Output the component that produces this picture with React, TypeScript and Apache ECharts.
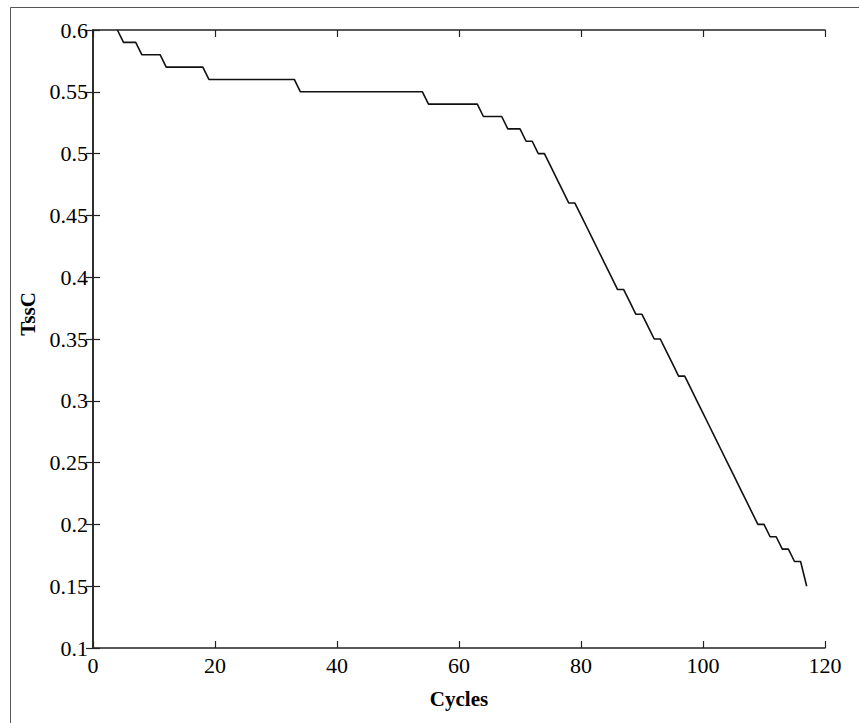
import React, { useEffect, useRef } from "react";
import * as echarts from "echarts";

const cycles: number[] = [
  4, 5, 6, 7, 8, 9, 10, 11, 12, 13, 14, 15, 16, 17, 18, 19, 20, 21, 22, 23, 24, 25, 26, 27, 28, 29, 30,
  31, 32, 33, 34, 35, 36, 37, 38, 39, 40, 41, 42, 43, 44, 45, 46, 47, 48, 49, 50, 51, 52, 53, 54, 55,
  56, 57, 58, 59, 60, 61, 62, 63, 64, 65, 66, 67, 68, 69, 70, 71, 72, 73, 74, 75, 76, 77, 78, 79, 80,
  81, 82, 83, 84, 85, 86, 87, 88, 89, 90, 91, 92, 93, 94, 95, 96, 97, 98, 99, 100, 101, 102, 103, 104,
  105, 106, 107, 108, 109, 110, 111, 112, 113, 114, 115, 116, 117,
];

const tssc: number[] = [
  0.6, 0.59, 0.59, 0.59, 0.58, 0.58, 0.58, 0.58, 0.57, 0.57, 0.57, 0.57, 0.57, 0.57, 0.57, 0.56, 0.56,
  0.56, 0.56, 0.56, 0.56, 0.56, 0.56, 0.56, 0.56, 0.56, 0.56, 0.56, 0.56, 0.56, 0.55, 0.55, 0.55, 0.55,
  0.55, 0.55, 0.55, 0.55, 0.55, 0.55, 0.55, 0.55, 0.55, 0.55, 0.55, 0.55, 0.55, 0.55, 0.55, 0.55, 0.55,
  0.54, 0.54, 0.54, 0.54, 0.54, 0.54, 0.54, 0.54, 0.54, 0.53, 0.53, 0.53, 0.53, 0.52, 0.52, 0.52, 0.51,
  0.51, 0.5, 0.5, 0.49, 0.48, 0.47, 0.46, 0.46, 0.45, 0.44, 0.43, 0.42, 0.41, 0.4, 0.39, 0.39, 0.38,
  0.37, 0.37, 0.36, 0.35, 0.35, 0.34, 0.33, 0.32, 0.32, 0.31, 0.3, 0.29, 0.28, 0.27, 0.26, 0.25, 0.24,
  0.23, 0.22, 0.21, 0.2, 0.2, 0.19, 0.19, 0.18, 0.18, 0.17, 0.17, 0.15,
];

const xTicks = { min: 0, max: 120, interval: 20 };
const yTicks = { min: 0.1, max: 0.6, interval: 0.05 };

const FONT = "'Liberation Serif', 'Times New Roman', serif";

export default function App() {
  const ref = useRef<HTMLDivElement>(null);
  useEffect(() => {
    if (!ref.current) return;
    const chart = echarts.init(ref.current, undefined, { renderer: "svg" });
    const axisLine = { show: true, lineStyle: { color: "#222", width: 1.5 } };
    const tick = { show: true, inside: true, length: 7, lineStyle: { color: "#222", width: 1.2 } };
    const fmtY = (v: number) => String(Number(v.toFixed(2)));
    chart.setOption({
      animation: false,
      backgroundColor: "#fff",
      grid: { left: 93, top: 30, right: 34, bottom: 75, containLabel: false },
      graphic: [
        {
          type: "polyline",
          shape: { points: [[10.5, 723], [10.5, 7.5], [859, 7.5]] },
          style: { stroke: "#555", lineWidth: 1, fill: "none" },
          silent: true,
        },
      ],
      xAxis: [
        {
          type: "value",
          position: "bottom",
          ...xTicks,
          name: "Cycles",
          nameLocation: "middle",
          nameGap: 40,
          nameTextStyle: { fontFamily: FONT, fontSize: 21, fontWeight: "bold", color: "#000" },
          axisLine,
          axisTick: tick,
          splitLine: { show: false },
          axisLabel: { fontFamily: FONT, fontSize: 22, color: "#000", margin: 6 },
        },
        {
          type: "value",
          position: "top",
          ...xTicks,
          axisLine,
          axisTick: tick,
          splitLine: { show: false },
          axisLabel: { show: false },
        },
      ],
      yAxis: [
        {
          type: "value",
          position: "left",
          ...yTicks,
          name: "TssC",
          nameLocation: "middle",
          nameGap: 55,
          nameRotate: 90,
          nameTextStyle: {
            fontFamily: FONT,
            fontSize: 21,
            fontWeight: "bold",
            color: "#000",
            padding: [0, 0, 0, 50],
          },
          axisLine,
          axisTick: tick,
          splitLine: { show: false },
          axisLabel: { fontFamily: FONT, fontSize: 22, color: "#000", margin: 5, formatter: fmtY },
        },
        {
          type: "value",
          position: "right",
          ...yTicks,
          axisLine,
          axisTick: tick,
          splitLine: { show: false },
          axisLabel: { show: false },
        },
      ],
      series: [
        {
          type: "line",
          data: cycles.map((c, i) => [c, tssc[i]]),
          showSymbol: false,
          symbol: "none",
          lineStyle: { color: "#111", width: 1.6 },
          xAxisIndex: 0,
          yAxisIndex: 0,
        },
      ],
    });
    return () => chart.dispose();
  }, []);
  return (
    <div
      ref={ref}
      style={{ position: "fixed", left: 0, top: 0, width: 859, height: 723, background: "#fff" }}
    />
  );
}
